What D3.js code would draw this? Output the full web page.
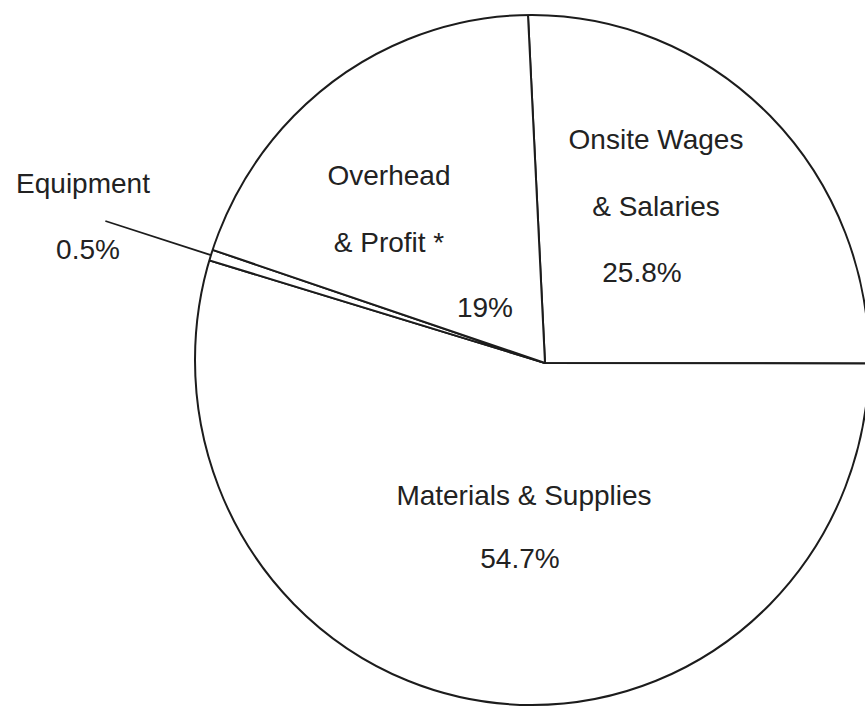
<!DOCTYPE html>
<html>
<head>
<meta charset="utf-8">
<script src="https://cdn.jsdelivr.net/npm/d3@7"></script>
<style>
  html, body { margin: 0; padding: 0; background: #fff; }
  svg { display: block; }
  text { font-family: "Liberation Sans", Arial, sans-serif; font-size: 28px; fill: #222; }
</style>
</head>
<body>
<div id="chart"></div>
<script>
// Share of construction cost, clockwise from the top.
const categories = ["Onsite Wages & Salaries", "Materials & Supplies", "Equipment", "Overhead & Profit *"];
const shares = [25.8, 54.7, 0.5, 19];
const valueLabels = ["25.8%", "54.7%", "0.5%", "19%"];
const nameLines = [["Onsite Wages", "& Salaries"], ["Materials & Supplies"], ["Equipment"], ["Overhead", "& Profit *"]];

const width = 865;
const height = 707;

// The drawn circle is slightly off the point where the slices meet.
const vertex = {x: 545, y: 363};
const outline = {cx: 532, cy: 360, rx: 337, ry: 345};
const startDeg = -2.8;

// Where each label block sits (x centre, first baseline, line step).
const labelLayout = [
    {x: 656, y: 149, step: 67, valueX: 642, valueY: 282},
    {x: 524, y: 505, step: 63, valueX: 520, valueY: 568},
    {x: 83, y: 193, step: 66, valueX: 88, valueY: 259},
    {x: 389, y: 185, step: 67, valueX: 485, valueY: 317}
];

const svg = d3.select("#chart")
    .append("svg")
    .attr("width", width)
    .attr("height", height)
    .attr("viewBox", [0, 0, width, height]);

const pie = d3.pie()
    .sort(null)
    .startAngle(startDeg * Math.PI / 180)
    .endAngle((startDeg + 360) * Math.PI / 180);
const arcs = pie(shares);

// Slices are drawn around the vertex with a large radius and cut by the outline.
svg.append("clipPath")
    .attr("id", "pie-clip")
    .append("ellipse")
    .attr("cx", outline.cx)
    .attr("cy", outline.cy)
    .attr("rx", outline.rx)
    .attr("ry", outline.ry);

const arc = d3.arc().innerRadius(0).outerRadius(420);

svg.append("g")
    .attr("clip-path", "url(#pie-clip)")
    .append("g")
    .attr("transform", `translate(${vertex.x},${vertex.y})`)
    .selectAll("path")
    .data(arcs)
    .join("path")
    .attr("d", arc)
    .attr("fill", "#fff")
    .attr("stroke", "#1c1c1c")
    .attr("stroke-width", 2)
    .attr("stroke-linejoin", "round");

svg.append("ellipse")
    .attr("cx", outline.cx)
    .attr("cy", outline.cy)
    .attr("rx", outline.rx)
    .attr("ry", outline.ry)
    .attr("fill", "none")
    .attr("stroke", "#1c1c1c")
    .attr("stroke-width", 2);

// Point where a ray from the vertex meets the outline.
function edgePoint(angle) {
    const dx = Math.sin(angle), dy = -Math.cos(angle);
    const ox = (vertex.x - outline.cx) / outline.rx, oy = (vertex.y - outline.cy) / outline.ry;
    const ux = dx / outline.rx, uy = dy / outline.ry;
    const a = ux * ux + uy * uy, b = 2 * (ox * ux + oy * uy), c = ox * ox + oy * oy - 1;
    const t = (-b + Math.sqrt(b * b - 4 * a * c)) / (2 * a);
    return [vertex.x + t * dx, vertex.y + t * dy];
}

// Leader line for the thin equipment slice.
const thin = arcs[2];
const mid = (thin.startAngle + thin.endAngle) / 2;
const from = edgePoint(mid);
const leaderLen = 462;
svg.append("line")
    .attr("x1", from[0])
    .attr("y1", from[1])
    .attr("x2", vertex.x + leaderLen * Math.sin(mid))
    .attr("y2", vertex.y - leaderLen * Math.cos(mid))
    .attr("stroke", "#1c1c1c")
    .attr("stroke-width", 1.8);

// Labels.
const labels = svg.append("g").attr("text-anchor", "middle");
categories.forEach((c, i) => {
    const pos = labelLayout[i];
    nameLines[i].forEach((line, j) => {
        labels.append("text")
            .attr("x", pos.x)
            .attr("y", pos.y + j * pos.step)
            .text(line);
    });
    labels.append("text")
        .attr("x", pos.valueX)
        .attr("y", pos.valueY)
        .text(valueLabels[i]);
});
</script>
</body>
</html>
